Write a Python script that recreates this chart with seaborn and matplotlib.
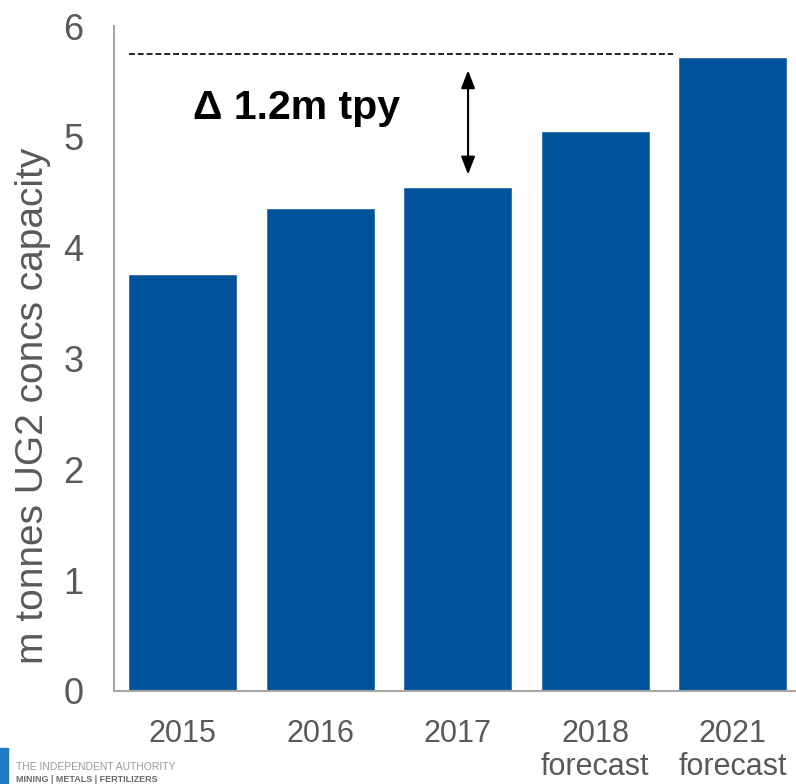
import matplotlib
matplotlib.use("Agg")
import matplotlib.pyplot as plt
import seaborn as sns
import pandas as pd

categories = ["2015", "2016", "2017", "2018\nforecast", "2021\nforecast"]
capacity = [3.75, 4.35, 4.54, 5.04, 5.71]
y_ticks = [0, 1, 2, 3, 4, 5, 6]
ylabel = "m tonnes UG2 concs capacity"
delta_label = "\u0394 1.2m tpy"
ref_level = 5.75
arrow_top = 5.60
arrow_bottom = 4.66

sns.set_theme(style="white")
plt.rcParams["font.family"] = ["Liberation Sans", "DejaVu Sans"]

df = pd.DataFrame({"year": categories, "capacity": capacity})

fig = plt.figure(figsize=(7.96, 7.84), dpi=100)
ax = fig.add_axes([114/796, 1-691/784, 687.5/796, (691-26)/784])

sns.barplot(data=df, x="year", y="capacity", color="#00529B", saturation=1,
            width=0.78, ax=ax, edgecolor="#2F6DB0", linewidth=0.6)

ax.set_ylim(0, 6)
ax.set_xlim(-0.5, 4.5)
ax.set_yticks(y_ticks)
ax.set_yticklabels([str(t) for t in y_ticks])
ax.tick_params(axis="y", labelsize=26, colors="#595959", pad=22, length=0)
ax.tick_params(axis="x", labelsize=22, colors="#595959", pad=20, length=0)
for lab in ax.get_xticklabels():
    lab.set_linespacing(1.12)
for lab in ax.get_yticklabels():
    lab.set_va("center_baseline")
ax.set_xlabel("")
ax.set_ylabel("")
for s in ["top", "right"]:
    ax.spines[s].set_visible(False)
for s in ["left", "bottom"]:
    ax.spines[s].set_color("#A6A6A6")
    ax.spines[s].set_linewidth(1.5)

fig.text(33/796, 1-406/784, ylabel, rotation=90, ha="center", va="center",
         fontsize=28, color="#595959")

# reference dashed line
ax.plot([-0.39, 3.565], [ref_level, ref_level], color="black", lw=1.2,
        linestyle=(0, (3.5, 1.8)), clip_on=False)

# double arrow
ax.annotate("", xy=(2.075, arrow_bottom), xytext=(2.075, arrow_top),
            arrowprops=dict(arrowstyle="<|-|>,head_length=0.9,head_width=0.35",
                            color="black", lw=1.5, shrinkA=0, shrinkB=0))

ax.text(0.0745, 5.16, delta_label, ha="left", va="baseline",
        fontsize=29.5, fontweight="bold", color="black")

# logo
from matplotlib.patches import Rectangle
fig.patches.append(Rectangle((0, 0), 8/796, 36/784, transform=fig.transFigure,
                             color="#1E7BC4", zorder=5))
fig.text(16/796, 1-770/784, "THE INDEPENDENT AUTHORITY", fontsize=7.5,
         color="#9A9A9A", ha="left", va="baseline")
fig.text(16/796, 1-782/784, "MINING | METALS | FERTILIZERS", fontsize=6.5,
         color="#6A6A6A", ha="left", va="baseline", fontweight="bold")

fig.savefig("out.png", dpi=100)
